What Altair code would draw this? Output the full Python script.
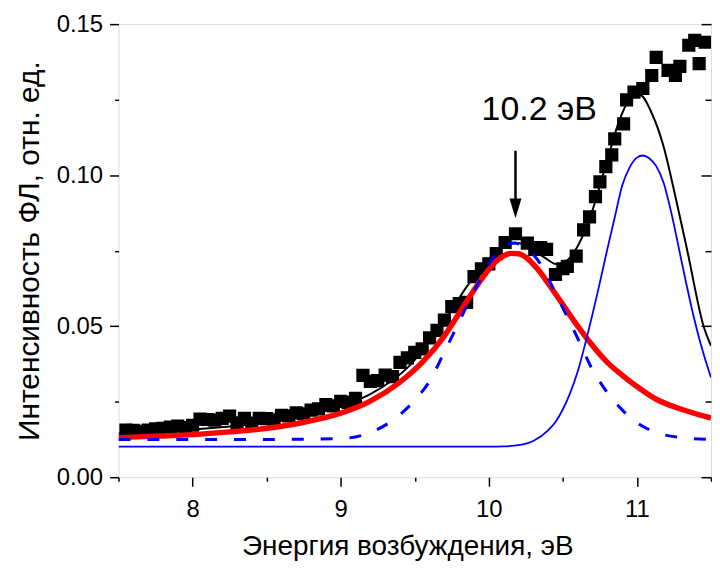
import altair as alt
import pandas as pd

# ---- measured points (excitation energy, eV / PL intensity, a.u.) ----
energy = [7.55, 7.60, 7.65, 7.70, 7.75, 7.80, 7.85, 7.90, 7.95, 8.00,
          8.05, 8.10, 8.15, 8.20, 8.25, 8.30, 8.35, 8.40, 8.45, 8.50,
          8.55, 8.60, 8.65, 8.70, 8.75, 8.80, 8.85, 8.90, 8.95, 9.00,
          9.05, 9.10, 9.15, 9.20, 9.25, 9.30, 9.35, 9.40, 9.45, 9.50,
          9.55, 9.60, 9.65, 9.70, 9.75, 9.80, 9.85, 9.90, 9.95, 10.00,
          10.05, 10.11, 10.18, 10.26, 10.31, 10.35, 10.39, 10.45, 10.50, 10.53,
          10.59, 10.64, 10.68, 10.72, 10.75, 10.79, 10.83, 10.85, 10.91, 10.93,
          10.98, 11.04, 11.10, 11.13, 11.21, 11.26, 11.29, 11.35, 11.39, 11.42,
          11.46]
intensity = [0.0156, 0.0155, 0.0152, 0.0156, 0.0160, 0.0162, 0.0166, 0.0169, 0.0164, 0.0172,
             0.0192, 0.0191, 0.0189, 0.0195, 0.0202, 0.0180, 0.0195, 0.0179, 0.0195, 0.0194,
             0.0190, 0.0205, 0.0203, 0.0213, 0.0210, 0.0222, 0.0226, 0.0240, 0.0236, 0.0251,
             0.0248, 0.0261, 0.0337, 0.0317, 0.0320, 0.0338, 0.0333, 0.0380, 0.0395, 0.0413,
             0.0425, 0.0461, 0.0486, 0.0520, 0.0565, 0.0575, 0.0579, 0.0664, 0.0690, 0.0706,
             0.0740, 0.0777, 0.0806, 0.0775, 0.0754, 0.0760, 0.0754, 0.0671, 0.0690, 0.0698,
             0.0732, 0.0819, 0.0862, 0.0929, 0.0978, 0.1028, 0.1067, 0.1120, 0.1170, 0.1249,
             0.1275, 0.1287, 0.1330, 0.1390, 0.1347, 0.1330, 0.1360, 0.1430, 0.1446, 0.1369,
             0.1440]

# ---- total fit (black) ----
total_x = [7.5, 8.0, 8.5, 9.0, 9.2, 9.46, 9.72, 9.85, 10.0, 10.1, 10.15, 10.2, 10.25, 10.3,
           10.38, 10.46, 10.53, 10.6, 10.685, 10.8, 10.88, 10.95, 11.02, 11.1, 11.177,
           11.266, 11.34, 11.45, 11.5]
total_y = [0.0145, 0.0158, 0.0182, 0.0235, 0.0275, 0.0367, 0.0532, 0.0630, 0.0722, 0.0765,
           0.0774, 0.0775, 0.0766, 0.0752, 0.0726, 0.0705, 0.0718, 0.0765, 0.0862, 0.1050,
           0.1180, 0.1250, 0.1265, 0.1205, 0.1100, 0.0915, 0.0750, 0.0500, 0.0435]

# ---- single-band fit (red, thick) ----
red_x = [7.5, 7.75, 8.0, 8.25, 8.5, 8.75, 9.0, 9.2, 9.4, 9.55, 9.7, 9.8, 9.9, 10.0, 10.05,
         10.1, 10.15, 10.2, 10.25, 10.3, 10.35, 10.4, 10.46, 10.55, 10.62, 10.685, 10.8,
         10.91, 11.0, 11.13, 11.3, 11.5]
red_y = [0.0131, 0.0136, 0.0141, 0.0150, 0.0162, 0.0182, 0.0212, 0.0252, 0.0315, 0.0380,
         0.0468, 0.0543, 0.0620, 0.0688, 0.0715, 0.0733, 0.0741, 0.0740, 0.0728, 0.0705,
         0.0677, 0.0642, 0.0600, 0.0535, 0.0487, 0.0445, 0.0380, 0.0334, 0.0300, 0.0258,
         0.0225, 0.0196]

# ---- 10.2 eV component (blue dashed) ----
dash_x = [7.5, 8.0, 8.5, 9.0, 9.2, 9.35, 9.5, 9.6, 9.7, 9.8, 9.9, 10.0, 10.08, 10.17,
          10.26, 10.35, 10.42, 10.506, 10.6, 10.685, 10.8, 10.91, 11.0, 11.13, 11.3, 11.5]
dash_y = [0.0125, 0.0125, 0.0125, 0.0128, 0.0148, 0.0188, 0.0255, 0.0318, 0.0415, 0.0515,
          0.0615, 0.0705, 0.0755, 0.0775, 0.0755, 0.0705, 0.0640, 0.0554, 0.0460, 0.0370,
          0.0280, 0.0218, 0.0180, 0.0148, 0.0131, 0.0125]

# ---- 11 eV component (blue solid, thin) ----
peak2_x = [7.5, 9.5, 10.0, 10.1, 10.2, 10.3, 10.4, 10.45, 10.5, 10.55, 10.6, 10.65, 10.7,
           10.75, 10.8, 10.85, 10.9, 10.95, 11.0, 11.04, 11.08, 11.13, 11.18, 11.23, 11.28,
           11.33, 11.38, 11.43, 11.5]
peak2_y = [0.0101, 0.0101, 0.0101, 0.0102, 0.0106, 0.0120, 0.0155, 0.0183, 0.0225, 0.0280,
           0.0350, 0.0440, 0.0540, 0.0645, 0.0755, 0.0860, 0.0965, 0.1025, 0.1058, 0.1065,
           0.1057, 0.1030, 0.0975, 0.0880, 0.0765, 0.0648, 0.0538, 0.0442, 0.0330]

# ---- annotation ----
label_text = ["10.2 эВ"]
label_x = [10.34]
label_y = [0.1182]
arrow_x = [10.18]
arrow_top = [0.1081]
arrow_end = [0.0916]
arrow_head = [0.0890]

x_ticks = [7.5, 8, 8.5, 9, 9.5, 10, 10.5, 11, 11.5]
y_ticks = [0, 0.025, 0.05, 0.075, 0.1, 0.125, 0.15]

FONT = "Liberation Sans"
W, H = 595, 455

pts = pd.DataFrame({"e": energy, "i": intensity})
tot = pd.DataFrame({"e": total_x, "i": total_y})
red = pd.DataFrame({"e": red_x, "i": red_y})
dsh = pd.DataFrame({"e": dash_x, "i": dash_y})
pk2 = pd.DataFrame({"e": peak2_x, "i": peak2_y})
lab = pd.DataFrame({"e": label_x, "i": label_y, "t": label_text})
arr = pd.DataFrame({"e": arrow_x, "i": arrow_top, "i2": arrow_end, "h": arrow_head})

xs = alt.Scale(domain=[7.5, 11.5], nice=False, zero=False)
ys = alt.Scale(domain=[0, 0.15], nice=False, zero=False)

x_axis = alt.Axis(
    values=x_ticks, format=".1f",
    labelExpr="datum.value % 1 != 0 ? '' : format(datum.value, 'd')",
    title="Энергия возбуждения, эВ",
    domain=False, grid=False,
    tickColor="black", tickWidth=1.5,
    tickSize={"condition": {"test": "datum.value % 1 != 0", "value": 4}, "value": 9},
    labelFont=FONT, labelFontSize=24, labelColor="black", labelPadding=11,
    titleFont=FONT, titleFontSize=28, titleFontWeight="normal", titleColor="black",
    titlePadding=12, titleX=290, labelFlush=False, labelOverlap=False,
)
y_axis = alt.Axis(
    values=y_ticks,
    labelExpr="round(datum.value*40) % 2 == 1 ? '' : format(datum.value, '.2f')",
    title="Интенсивность ФЛ, отн. ед.",
    domain=False, grid=False,
    tickColor="black", tickWidth=1.5,
    tickSize={"condition": {"test": "round(datum.value*40) % 2 == 1", "value": 4}, "value": 9},
    labelFont=FONT, labelFontSize=24, labelColor="black", labelPadding=7,
    titleFont=FONT, titleFontSize=30, titleFontWeight="normal", titleColor="black",
    titlePadding=12, labelFlush=False, labelOverlap=False,
)
y_axis_right = alt.Axis(
    values=y_ticks, orient="left", offset=-W, labels=False, title=None,
    domain=False, grid=False, tickColor="black", tickWidth=1.5,
    tickSize={"condition": {"test": "round(datum.value*40) % 2 == 1", "value": 6}, "value": 10},
)


def X(field="e"):
    return alt.X(f"{field}:Q", scale=xs, axis=x_axis)


def Y(field="i", axis=None):
    return alt.Y(f"{field}:Q", scale=ys, axis=axis)


squares = alt.Chart(pts).mark_square(size=175, color="black", opacity=1, clip=True).encode(
    x=X(), y=Y(axis=y_axis))
black = alt.Chart(tot).mark_line(color="black", strokeWidth=2, interpolate="monotone",
                                  clip=True).encode(x=X(), y=Y(axis=y_axis_right))
redl = alt.Chart(red).mark_line(color="#ff0000", strokeWidth=5.5, interpolate="monotone",
                                 clip=True).encode(x=X(), y=Y())
dash = alt.Chart(dsh).mark_line(color="#0000ff", strokeWidth=3, strokeDash=[12, 17],
                                 interpolate="monotone", clip=True).encode(x=X(), y=Y())
blue = alt.Chart(pk2).mark_line(color="#0000ff", strokeWidth=1.8, interpolate="monotone",
                                 clip=True).encode(x=X(), y=Y())
text = alt.Chart(lab).mark_text(font=FONT, fontSize=34, color="black", align="center",
                                baseline="alphabetic").encode(x=X(), y=Y(), text="t:N")
shaft = alt.Chart(arr).mark_rule(color="black", strokeWidth=2.5).encode(
    x=X(), y=Y(), y2="i2:Q")
head = alt.Chart(arr).mark_point(shape="M-0.6,-1L0.6,-1L0,1Z", size=400, filled=True,
                                 color="black", opacity=1, strokeWidth=0).encode(
    x=X(), y=Y("h"))

chart = alt.layer(squares, black, redl, dash, blue, text, shaft, head).resolve_axis(
    y="independent"
).properties(
    width=W, height=H,
    autosize=alt.AutoSizeParams(type="none"),
    padding={"left": 111, "top": 15, "right": 1, "bottom": 92},
).configure_view(stroke="black", strokeWidth=1.5).configure(background="white")

chart.save("out.html", embed_options={"renderer": "svg", "actions": False})
